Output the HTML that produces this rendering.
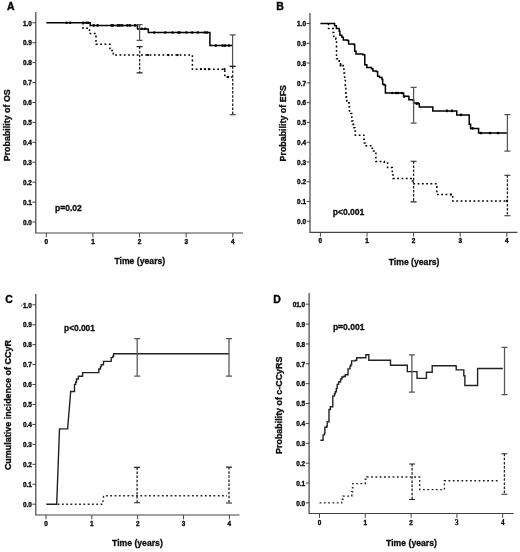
<!DOCTYPE html>
<html><head><meta charset="utf-8"><title>Figure</title>
<style>
html,body{margin:0;padding:0;background:#fff;}
body{width:520px;height:552px;overflow:hidden;}
svg{display:block;font-family:"Liberation Sans", sans-serif;-webkit-font-smoothing:antialiased;will-change:transform;}
</style></head><body>
<svg width="520" height="552" viewBox="0 0 520 552">
<rect width="520" height="552" fill="#fff"/>
<path d="M35.8,12 V233 H243" fill="none" stroke="#444" stroke-width="1.2"/>
<path d="M32.4,222 H36 M32.4,202.08 H36 M32.4,182.16 H36 M32.4,162.24 H36 M32.4,142.32 H36 M32.4,122.4 H36 M32.4,102.48 H36 M32.4,82.56 H36 M32.4,62.64 H36 M32.4,42.72 H36 M32.4,22.8 H36 M46.3,233 V237.3 M92.92,233 V237.3 M139.55,233 V237.3 M186.18,233 V237.3 M232.8,233 V237.3 " fill="none" stroke="#444" stroke-width="1"/>
<g font-size="6.4" font-weight="bold" text-anchor="end" fill="#111" stroke="#000" stroke-width="0.35"><text x="31.8" y="224.7">0.0</text><text x="31.8" y="204.78">0.1</text><text x="31.8" y="184.86">0.2</text><text x="31.8" y="164.94">0.3</text><text x="31.8" y="145.02">0.4</text><text x="31.8" y="125.1">0.5</text><text x="31.8" y="105.18">0.6</text><text x="31.8" y="85.26">0.7</text><text x="31.8" y="65.34">0.8</text><text x="31.8" y="45.42">0.9</text><text x="31.8" y="25.5">1.0</text></g>
<g font-size="6.4" font-weight="bold" text-anchor="middle" fill="#111" stroke="#000" stroke-width="0.35"><text x="46.3" y="244">0</text><text x="92.92" y="244">1</text><text x="139.55" y="244">2</text><text x="186.18" y="244">3</text><text x="232.8" y="244">4</text></g>
<text x="7" y="10.2" font-size="10.5" font-weight="bold" fill="#000" stroke="#000" stroke-width="0.35">A</text>
<text x="114.4" y="264.3" font-size="9.6" font-weight="bold" fill="#111" stroke="#000" stroke-width="0.3" textLength="50.8" lengthAdjust="spacingAndGlyphs">Time (years)</text>
<text transform="translate(10.2,125.25) rotate(-90)" x="-36.05" y="0" font-size="9.4" font-weight="bold" fill="#111" stroke="#000" stroke-width="0.3" textLength="72.1" lengthAdjust="spacingAndGlyphs">Probability of OS</text>
<text x="55" y="210.9" font-size="8.7" font-weight="bold" fill="#111" stroke="#000" stroke-width="0.3" textLength="26.7" lengthAdjust="spacingAndGlyphs">p=0.02</text>
<path d="M83,22.8 H83 V28.3 H89.5 V33.5 H96 V44.3 H110 V50.5 H113.3 V55.1 H192.4 V69.2 H224.8 V77 H232.8 V77" fill="none" stroke="#000" stroke-width="1.5" stroke-dasharray="1.8 2.5"/>
<path d="M46.3,22.8 H90.2 V25.5 H137.5 V28.9 H148.3 V32.5 H209.9 V45.6 H232.8 V45.6" fill="none" stroke="#000" stroke-width="1.5"/>
<path d="M139.6,24.7 V40.3 M136.6,24.7 H142.6 M136.6,40.3 H142.6" fill="none" stroke="#555" stroke-width="1.25"/>
<path d="M232.6,34.9 V66 M229.6,34.9 H235.6 M229.6,66 H235.6" fill="none" stroke="#555" stroke-width="1.25"/>
<path d="M139.6,46.6 V72.9" fill="none" stroke="#222" stroke-width="1.3" stroke-dasharray="2.5 1.6"/>
<path d="M136.6,46.6 H142.6 M136.6,72.9 H142.6" fill="none" stroke="#222" stroke-width="1.1"/>
<path d="M232.7,66.5 V114.8" fill="none" stroke="#222" stroke-width="1.3" stroke-dasharray="2.5 1.6"/>
<path d="M229.7,66.5 H235.7 M229.7,114.8 H235.7" fill="none" stroke="#222" stroke-width="1.1"/>
<circle cx="66.6" cy="22.8" r="1.3" fill="#000"/>
<circle cx="70.2" cy="22.8" r="1.3" fill="#000"/>
<circle cx="83.4" cy="22.8" r="1.3" fill="#000"/>
<circle cx="86.3" cy="22.8" r="1.3" fill="#000"/>
<circle cx="88.2" cy="22.8" r="1.3" fill="#000"/>
<circle cx="93.8" cy="25.4" r="1.3" fill="#000"/>
<circle cx="97.6" cy="25.4" r="1.3" fill="#000"/>
<circle cx="111.6" cy="25.4" r="1.3" fill="#000"/>
<circle cx="113" cy="25.4" r="1.3" fill="#000"/>
<circle cx="117.8" cy="25.4" r="1.3" fill="#000"/>
<circle cx="119.7" cy="25.4" r="1.3" fill="#000"/>
<circle cx="122.1" cy="25.4" r="1.3" fill="#000"/>
<circle cx="127.4" cy="25.4" r="1.3" fill="#000"/>
<circle cx="129.8" cy="25.4" r="1.3" fill="#000"/>
<circle cx="135.1" cy="25.4" r="1.3" fill="#000"/>
<circle cx="141.8" cy="28.8" r="1.3" fill="#000"/>
<circle cx="145.1" cy="28.8" r="1.3" fill="#000"/>
<circle cx="154.3" cy="32.5" r="1.3" fill="#000"/>
<circle cx="165.3" cy="32.5" r="1.3" fill="#000"/>
<circle cx="172.5" cy="32.5" r="1.3" fill="#000"/>
<circle cx="178.3" cy="32.5" r="1.3" fill="#000"/>
<circle cx="179.8" cy="32.5" r="1.3" fill="#000"/>
<circle cx="186.3" cy="32.5" r="1.3" fill="#000"/>
<circle cx="192.1" cy="32.5" r="1.3" fill="#000"/>
<circle cx="197.9" cy="32.5" r="1.3" fill="#000"/>
<circle cx="204.8" cy="32.5" r="1.3" fill="#000"/>
<circle cx="207.1" cy="32.5" r="1.3" fill="#000"/>
<circle cx="215.8" cy="45.6" r="1.3" fill="#000"/>
<circle cx="222.7" cy="45.6" r="1.3" fill="#000"/>
<circle cx="225" cy="45.6" r="1.3" fill="#000"/>
<circle cx="229" cy="45.6" r="1.3" fill="#000"/>
<circle cx="148" cy="55.1" r="1.15" fill="#000"/>
<circle cx="168.5" cy="55.1" r="1.15" fill="#000"/>
<circle cx="177.6" cy="55.1" r="1.15" fill="#000"/>
<circle cx="200.9" cy="69.2" r="1.15" fill="#000"/>
<circle cx="204.9" cy="69.2" r="1.15" fill="#000"/>
<circle cx="208.9" cy="69.2" r="1.15" fill="#000"/>
<circle cx="224.5" cy="69.2" r="1.15" fill="#000"/>
<circle cx="228" cy="77" r="1.15" fill="#000"/>
<path d="M310,12.9 V232.4 H517.4" fill="none" stroke="#444" stroke-width="1.2"/>
<path d="M306.6,221.3 H310.2 M306.6,201.52 H310.2 M306.6,181.74 H310.2 M306.6,161.96 H310.2 M306.6,142.18 H310.2 M306.6,122.4 H310.2 M306.6,102.62 H310.2 M306.6,82.84 H310.2 M306.6,63.06 H310.2 M306.6,43.28 H310.2 M306.6,23.5 H310.2 M320.4,232.4 V236.7 M367,232.4 V236.7 M413.6,232.4 V236.7 M460.2,232.4 V236.7 M506.8,232.4 V236.7 " fill="none" stroke="#444" stroke-width="1"/>
<g font-size="6.4" font-weight="bold" text-anchor="end" fill="#111" stroke="#000" stroke-width="0.35"><text x="306" y="224">0.0</text><text x="306" y="204.22">0.1</text><text x="306" y="184.44">0.2</text><text x="306" y="164.66">0.3</text><text x="306" y="144.88">0.4</text><text x="306" y="125.1">0.5</text><text x="306" y="105.32">0.6</text><text x="306" y="85.54">0.7</text><text x="306" y="65.76">0.8</text><text x="306" y="45.98">0.9</text><text x="306" y="26.2">1.0</text></g>
<g font-size="6.4" font-weight="bold" text-anchor="middle" fill="#111" stroke="#000" stroke-width="0.35"><text x="320.4" y="243.4">0</text><text x="367" y="243.4">1</text><text x="413.6" y="243.4">2</text><text x="460.2" y="243.4">3</text><text x="506.8" y="243.4">4</text></g>
<text x="276.2" y="10.2" font-size="10.5" font-weight="bold" fill="#000" stroke="#000" stroke-width="0.35">B</text>
<text x="388.7" y="264.8" font-size="9.6" font-weight="bold" fill="#111" stroke="#000" stroke-width="0.3" textLength="50.8" lengthAdjust="spacingAndGlyphs">Time (years)</text>
<text transform="translate(285.5,123.25) rotate(-90)" x="-38.25" y="0" font-size="9.4" font-weight="bold" fill="#111" stroke="#000" stroke-width="0.3" textLength="76.5" lengthAdjust="spacingAndGlyphs">Probability of EFS</text>
<text x="332.7" y="215.4" font-size="8.7" font-weight="bold" fill="#111" stroke="#000" stroke-width="0.3" textLength="31.7" lengthAdjust="spacingAndGlyphs">p&lt;0.001</text>
<path d="M328.5,23.5 H328.5 V28.5 H333.2 V28.5 H333.2 V32.5 H333.8 V36.5 H335.9 V39.2 H336.5 V42.6 H336.5 V58.7 H339.2 V62.1 H340.6 V65.5 H343.3 V66.1 H343.9 V72.9 H344.6 V78.3 H345.3 V82.3 H345.3 V85.4 H345.9 V89.2 H345.9 V93.2 H346.2 V97.2 H346.8 V100.9 H348.8 V103.1 H349.2 V106.9 H349.5 V111 H350.9 V113.6 H351.8 V117.4 H351.8 V121 H353.1 V124.4 H354 V127.8 H354.9 V131.1 H355.3 V135.2 H363.6 V135.2 H363.9 V139.2 H364.3 V143 H366.1 V145.7 H370.1 V145.7 H372.1 V148.3 H373.5 V151 H375.9 V152.8 H375.9 V161.5 H384.2 V162.2 H387.6 V163.1 H387.6 V167.6 H391.6 V167.6 H392.3 V171.6 H393 V175 H393 V178.4 H411.1 V178.4 H412.5 V181 H413.2 V183.8 H436.2 V183.8 H436.8 V194.6 H451.8 V194.6 H452.7 V201 H507.2 V201" fill="none" stroke="#000" stroke-width="1.5" stroke-dasharray="1.8 2.5"/>
<path d="M320.4,23.5 H333.8 V23.5 H334.6 V25.8 H336.4 V28.5 H339.2 V31.2 H339.9 V35.2 H341.9 V37.2 H343.3 V39.9 H347.3 V40.6 H348.6 V43.9 H354 V44.6 H354.7 V51.3 H356 V54 H362.8 V54.7 H364.8 V64.8 H366.8 V67.5 H371.5 V68.8 H372.9 V70.9 H376.2 V71.5 H377.6 V76.2 H379.6 V77.6 H382 V79.5 H382.7 V84.2 H384 V84.9 H385.4 V93 H402.9 V93 H403.6 V96.3 H408.3 V96.6 H408.9 V99.7 H413 V100.1 H413.6 V103.1 H418.4 V103.7 H419.3 V107.1 H431.8 V107.1 H432.8 V110.9 H455.8 V110.9 H456.8 V114.9 H468.6 V114.9 H469.2 V124.3 H470.6 V128.4 H478 V128.4 H478.6 V133.1 H506.9 V133.1" fill="none" stroke="#000" stroke-width="1.5"/>
<path d="M413.6,87.3 V123 M410.6,87.3 H416.6 M410.6,123 H416.6" fill="none" stroke="#555" stroke-width="1.25"/>
<path d="M507.4,114.5 V151.2 M504.4,114.5 H510.4 M504.4,151.2 H510.4" fill="none" stroke="#555" stroke-width="1.25"/>
<path d="M413.6,161.3 V201.9" fill="none" stroke="#222" stroke-width="1.3" stroke-dasharray="2.5 1.6"/>
<path d="M410.6,161.3 H416.6 M410.6,201.9 H416.6" fill="none" stroke="#222" stroke-width="1.1"/>
<path d="M507.4,175.2 V215.7" fill="none" stroke="#222" stroke-width="1.3" stroke-dasharray="2.5 1.6"/>
<path d="M504.4,175.2 H510.4 M504.4,215.7 H510.4" fill="none" stroke="#222" stroke-width="1.1"/>
<circle cx="392.2" cy="93" r="1.3" fill="#000"/>
<circle cx="396" cy="93" r="1.3" fill="#000"/>
<circle cx="398" cy="93" r="1.3" fill="#000"/>
<circle cx="401.8" cy="93" r="1.3" fill="#000"/>
<circle cx="404.2" cy="96.6" r="1.3" fill="#000"/>
<circle cx="416.7" cy="103.7" r="1.3" fill="#000"/>
<circle cx="447" cy="110.9" r="1.3" fill="#000"/>
<circle cx="452" cy="110.9" r="1.3" fill="#000"/>
<circle cx="461" cy="114.9" r="1.3" fill="#000"/>
<circle cx="472.5" cy="128.4" r="1.3" fill="#000"/>
<circle cx="481" cy="133.1" r="1.3" fill="#000"/>
<circle cx="490" cy="133.1" r="1.3" fill="#000"/>
<circle cx="498" cy="133.1" r="1.3" fill="#000"/>
<circle cx="340.6" cy="65.5" r="1.15" fill="#000"/>
<circle cx="451" cy="194.6" r="1.15" fill="#000"/>
<circle cx="507" cy="201" r="1.15" fill="#000"/>
<path d="M35.8,294.1 V515 H239.4" fill="none" stroke="#444" stroke-width="1.2"/>
<path d="M21.9,304.2 V306.8" stroke="#777" stroke-width="0.8"/>
<path d="M32.4,504.2 H36 M32.4,484.26 H36 M32.4,464.32 H36 M32.4,444.38 H36 M32.4,424.44 H36 M32.4,404.5 H36 M32.4,384.56 H36 M32.4,364.62 H36 M32.4,344.68 H36 M32.4,324.74 H36 M32.4,304.8 H36 M46,515 V519.3 M91.85,515 V519.3 M137.7,515 V519.3 M183.55,515 V519.3 M229.4,515 V519.3 " fill="none" stroke="#444" stroke-width="1"/>
<g font-size="6.4" font-weight="bold" text-anchor="end" fill="#111" stroke="#000" stroke-width="0.35"><text x="31.8" y="506.9">0.0</text><text x="31.8" y="486.96">0.1</text><text x="31.8" y="467.02">0.2</text><text x="31.8" y="447.08">0.3</text><text x="31.8" y="427.14">0.4</text><text x="31.8" y="407.2">0.5</text><text x="31.8" y="387.26">0.6</text><text x="31.8" y="367.32">0.7</text><text x="31.8" y="347.38">0.8</text><text x="31.8" y="327.44">0.9</text><text x="31.8" y="307.5">1.0</text></g>
<g font-size="6.4" font-weight="bold" text-anchor="middle" fill="#111" stroke="#000" stroke-width="0.35"><text x="46" y="526">0</text><text x="91.85" y="526">1</text><text x="137.7" y="526">2</text><text x="183.55" y="526">3</text><text x="229.4" y="526">4</text></g>
<text x="5.2" y="302.5" font-size="10.5" font-weight="bold" fill="#000" stroke="#000" stroke-width="0.35">C</text>
<text x="112" y="546.2" font-size="9.6" font-weight="bold" fill="#111" stroke="#000" stroke-width="0.3" textLength="50.8" lengthAdjust="spacingAndGlyphs">Time (years)</text>
<text transform="translate(11,405.1) rotate(-90)" x="-65" y="0" font-size="9.6" font-weight="bold" fill="#111" stroke="#000" stroke-width="0.3" textLength="130" lengthAdjust="spacingAndGlyphs">Cumulative incidence of CCyR</text>
<text x="64.1" y="330.6" font-size="8.7" font-weight="bold" fill="#111" stroke="#000" stroke-width="0.3" textLength="30.8" lengthAdjust="spacingAndGlyphs">p&lt;0.001</text>
<path d="M57.6,504.2 H102.7 L103.6,495.8 H227" fill="none" stroke="#222" stroke-width="1.4" stroke-dasharray="1.8 2.5"/>
<path d="M46.3,504.2 H56.7 L59.5,428.9 H67.6 L70.7,391.5 H74.5 V384.4 H75.7 V382 H76.5 V379 H78.4 V376.2 H82.6 V372.6 H98.8 V369 H100.4 V366.9 H101.2 V364.7 H103.5 V361.4 H111.2 V357.6 H112.8 V356.2 H113.6 V353.7 H229" fill="none" stroke="#222" stroke-width="1.4"/>
<path d="M137.2,338.7 V376 M134.2,338.7 H140.2 M134.2,376 H140.2" fill="none" stroke="#555" stroke-width="1.25"/>
<path d="M229,338.5 V376 M226,338.5 H232 M226,376 H232" fill="none" stroke="#555" stroke-width="1.25"/>
<path d="M137.1,467.4 V502.8" fill="none" stroke="#222" stroke-width="1.3" stroke-dasharray="2.5 1.6"/>
<path d="M134.1,467.4 H140.1 M134.1,502.8 H140.1" fill="none" stroke="#222" stroke-width="1.1"/>
<path d="M229,467.1 V503" fill="none" stroke="#222" stroke-width="1.3" stroke-dasharray="2.5 1.6"/>
<path d="M226,467.1 H232 M226,503 H232" fill="none" stroke="#222" stroke-width="1.1"/>
<path d="M309.1,292.9 V513.5 H513.7" fill="none" stroke="#444" stroke-width="1.2"/>
<path d="M305.7,502.9 H309.3 M305.7,483.03 H309.3 M305.7,463.16 H309.3 M305.7,443.29 H309.3 M305.7,423.42 H309.3 M305.7,403.55 H309.3 M305.7,383.68 H309.3 M305.7,363.81 H309.3 M305.7,343.94 H309.3 M305.7,324.07 H309.3 M305.7,304.2 H309.3 M319.5,513.5 V517.8 M365.3,513.5 V517.8 M411.1,513.5 V517.8 M456.9,513.5 V517.8 M502.7,513.5 V517.8 " fill="none" stroke="#444" stroke-width="1"/>
<g font-size="6.4" font-weight="bold" text-anchor="end" fill="#111" stroke="#000" stroke-width="0.35"><text x="305.1" y="505.6">0.0</text><text x="305.1" y="485.73">0.1</text><text x="305.1" y="465.86">0.2</text><text x="305.1" y="445.99">0.3</text><text x="305.1" y="426.12">0.4</text><text x="305.1" y="406.25">0.5</text><text x="305.1" y="386.38">0.6</text><text x="305.1" y="366.51">0.7</text><text x="305.1" y="346.64">0.8</text><text x="305.1" y="326.77">0.9</text><text x="305.1" y="306.9">01.0</text></g>
<g font-size="6.4" font-weight="bold" text-anchor="middle" fill="#111" stroke="#000" stroke-width="0.35"><text x="319.5" y="524.5">0</text><text x="365.3" y="524.5">1</text><text x="411.1" y="524.5">2</text><text x="456.9" y="524.5" font-family="Liberation Serif, serif" font-size="7.2" stroke-width="0.25">3</text><text x="502.7" y="524.5" font-family="Liberation Serif, serif" font-size="7.2" stroke-width="0.25">4</text></g>
<text x="273.2" y="303.3" font-size="10.5" font-weight="bold" fill="#000" stroke="#000" stroke-width="0.35">D</text>
<text x="386.1" y="545.7" font-size="9.6" font-weight="bold" fill="#111" stroke="#000" stroke-width="0.3" textLength="50.8" lengthAdjust="spacingAndGlyphs">Time (years)</text>
<text transform="translate(281.8,405.25) rotate(-90)" x="-48.65" y="0" font-size="9.6" font-weight="bold" fill="#111" stroke="#000" stroke-width="0.3" textLength="97.3" lengthAdjust="spacingAndGlyphs">Probability of c-CCyRS</text>
<text x="332.9" y="329.6" font-size="8.7" font-weight="bold" fill="#111" stroke="#000" stroke-width="0.3" textLength="31.5" lengthAdjust="spacingAndGlyphs">p=0.001</text>
<path d="M319.6,502.9 H341.7 V499.2 H343 V496.1 H351.8 V491.8 H352.5 V487.8 H352.8 V483.6 H365.3 V479.3 H367 V477 H419.7 V489.6 H444.4 V480.7 H500" fill="none" stroke="#222" stroke-width="1.4" stroke-dasharray="1.8 2.5"/>
<path d="M320.4,440.3 H323.1 V434.9 H324.5 V433.1 H324.9 V427.2 H326.8 V426.3 H327.2 V421.7 H329 V414.5 H329 V409.5 H330.4 V406.8 H332.8 V405.9 H332.8 V395.9 H334.5 V393.8 H335.2 V391.8 H336.3 V388.5 H337.2 V384.4 H338.6 V382 H339.9 V381.7 H340.6 V379 H341.9 V377 H343.9 V376.3 H345.3 V374.7 H348 V374.7 H348 V368.9 H350 V366.2 H350.7 V364.9 H351.6 V360.9 H355.4 V360.2 H356.7 V357.8 H365.5 V357.8 H365.9 V354.8 H368.6 V354.8 H368.8 V360.2 H390.1 V360.2 H390.5 V365.2 H406.9 V365.2 H407.3 V371.6 H416.3 V371.6 H417 V378.4 H425.8 V378.4 H426.4 V372.3 H431.8 V372.3 H432.2 V365.8 H455.8 V366 H456.2 V369.9 H463.2 V369.9 H463.8 V375.7 H464.9 V376.3 H464.9 V385.5 H477.3 V385.5 H477.6 V368.5 H502.9 V368.5" fill="none" stroke="#222" stroke-width="1.4"/>
<path d="M411.9,354.8 V392.2 M408.9,354.8 H414.9 M408.9,392.2 H414.9" fill="none" stroke="#555" stroke-width="1.25"/>
<path d="M504.5,347.4 V394.5 M501.5,347.4 H507.5 M501.5,394.5 H507.5" fill="none" stroke="#555" stroke-width="1.25"/>
<path d="M412.1,464 V499.5" fill="none" stroke="#222" stroke-width="1.3" stroke-dasharray="2.5 1.6"/>
<path d="M409.1,464 H415.1 M409.1,499.5 H415.1" fill="none" stroke="#222" stroke-width="1.1"/>
<path d="M504.4,453.7 V494.3" fill="none" stroke="#222" stroke-width="1.3" stroke-dasharray="2.5 1.6"/>
<path d="M501.4,453.7 H507.4 M501.4,494.3 H507.4" fill="none" stroke="#222" stroke-width="1.1"/>
</svg>
</body></html>
